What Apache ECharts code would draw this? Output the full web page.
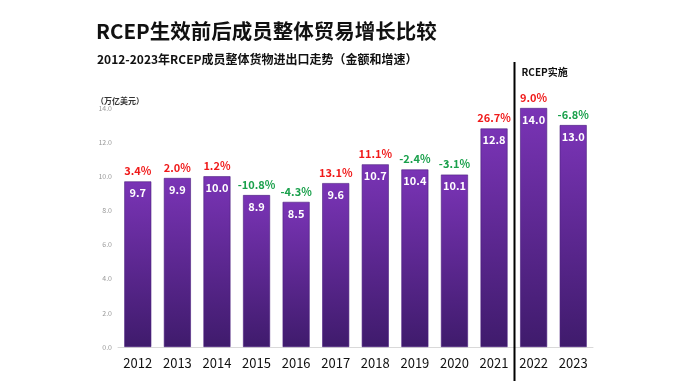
<!DOCTYPE html>
<html><head><meta charset="utf-8">
<script src="https://cdn.jsdelivr.net/npm/echarts@6/dist/echarts.min.js"></script>
<style>html,body{margin:0;padding:0;background:#fff}#c{width:680px;height:381px}</style>
</head><body><div id="c"></div>
<script>
var years = ['2012','2013','2014','2015','2016','2017','2018','2019','2020','2021','2022','2023'];
var tradeValues = [9.7, 9.9, 10.0, 8.9, 8.5, 9.6, 10.7, 10.4, 10.1, 12.8, 14.0, 13.0];
var growthRates = [3.4, 2.0, 1.2, -10.8, -4.3, 13.1, 11.1, -2.4, -3.1, 26.7, 9.0, -6.8];
var yTicks = [0, 2, 4, 6, 8, 10, 12, 14];

var FONT = '"Noto Sans CJK SC", "Noto Sans", sans-serif';
var chart = echarts.init(document.getElementById('c'), null, {renderer: 'canvas'});

var option = {
  backgroundColor: '#fff',
  animation: false,
  textStyle: {fontFamily: FONT},
  title: [
    {text: 'RCEP生效前后成员整体贸易增长比较', left: 91, top: 16,
     textStyle: {fontSize: 20.5, fontWeight: 'bold', color: '#111', fontFamily: FONT}},
    {text: '2012-2023年RCEP成员整体货物进出口走势（金额和增速）', left: 92, top: 48,
     textStyle: {fontSize: 12, fontWeight: 'bold', color: '#111', fontFamily: FONT}},
    {text: '（万亿美元）', left: 91, top: 92,
     textStyle: {fontSize: 8, fontWeight: 'bold', color: '#333', fontFamily: FONT}}
  ],
  grid: {left: 118, right: 87, top: 108, bottom: 34},
  xAxis: {
    type: 'category', data: years,
    axisLine: {lineStyle: {color: '#d9d9d9', width: 1}},
    axisTick: {show: false},
    axisLabel: {color: '#111', fontSize: 13, margin: 10, fontFamily: FONT}
  },
  yAxis: {
    type: 'value', min: yTicks[0], max: yTicks[yTicks.length - 1], interval: 2,
    axisLine: {show: false}, axisTick: {show: false}, splitLine: {show: false},
    axisLabel: {color: '#999', fontSize: 7, margin: 6, formatter: function (v) { return v.toFixed(1); }}
  },
  series: [
    {
      type: 'bar', data: tradeValues, barWidth: 27, z: 2,
      itemStyle: {
        color: new echarts.graphic.LinearGradient(0, 0, 0, 1, [
          {offset: 0, color: '#7a34b6'}, {offset: 1, color: '#3f1b6c'}
        ]),
        borderColor: '#4a1f7e', borderWidth: 0.6
      },
      label: {show: true, position: 'insideTop', distance: 6, color: '#fff', fontWeight: 'bold',
        fontSize: 11, fontFamily: FONT, formatter: function (p) { return p.value.toFixed(1); }}
    },
    {
      type: 'bar', barGap: '-100%', barWidth: 27, z: 1, silent: true,
      data: tradeValues.map(function (v, i) {
        return {value: v, label: {color: growthRates[i] >= 0 ? '#f01a1a' : '#19a04b'}};
      }),
      itemStyle: {color: 'rgba(0,0,0,0)'},
      label: {show: true, position: 'top', distance: 5, fontWeight: 'bold', fontSize: 11, fontFamily: FONT,
        formatter: function (p) { return growthRates[p.dataIndex].toFixed(1) + '%'; }}
    }
  ]
};
chart.setOption(option);

var x1 = chart.convertToPixel({xAxisIndex: 0}, '2021');
var x2 = chart.convertToPixel({xAxisIndex: 0}, '2022');
var lx = Math.round((x1 + x2) / 2) + 0.5;
chart.setOption({
  graphic: [
    {type: 'line', shape: {x1: lx, y1: 62, x2: lx, y2: 381}, style: {stroke: '#000', lineWidth: 2}, z: 10},
    {type: 'text', left: lx + 7, top: 67, style: {text: 'RCEP实施', fontSize: 10, fontWeight: 'bold', fontFamily: FONT, fill: '#111'}}
  ]
});
</script></body></html>
